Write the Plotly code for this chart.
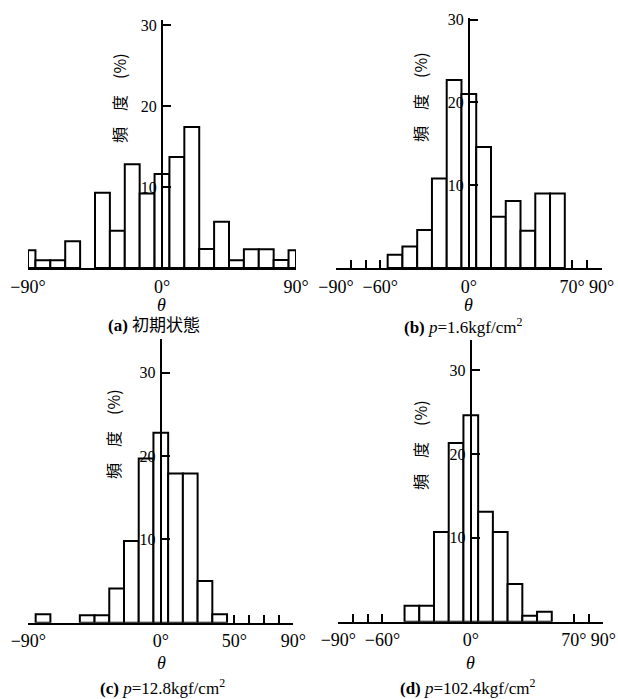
import plotly.graph_objects as go

W, H = 618, 699

# ---------------- data ----------------
# (a) initial state
theta_a = [-87.5, -80, -70, -60, -40, -30, -20, -10, 0, 10, 20, 30, 40, 50, 60, 70, 80, 87.5]
width_a = [5, 10, 10, 10, 10, 10, 10, 10, 10, 10, 10, 10, 10, 10, 10, 10, 10, 5]
freq_a = [2.2, 0.95, 0.95, 3.3, 9.3, 4.6, 12.8, 9.2, 11.6, 13.7, 17.4, 2.35, 5.7, 0.95, 2.3, 2.3, 1.0, 2.2]

# (b) p = 1.6 kgf/cm2
theta_b = [-50, -40, -30, -20, -10, 0, 10, 20, 30, 40, 50, 60]
freq_b = [1.6, 2.6, 4.6, 10.8, 22.7, 21.0, 14.6, 6.2, 8.1, 4.5, 9.0, 9.0]

# (c) p = 12.8 kgf/cm2
theta_c = [-80, -50, -40, -30, -20, -10, 0, 10, 20, 30, 40]
freq_c = [1.0, 0.9, 0.9, 4.1, 9.8, 19.7, 22.8, 17.9, 17.9, 5.0, 1.0]

# (d) p = 102.4 kgf/cm2
theta_d = [-40, -30, -20, -10, 0, 10, 20, 30, 40, 50]
freq_d = [1.9, 1.9, 10.7, 21.3, 24.6, 13.1, 10.7, 4.5, 0.7, 1.2]

bin_width = 10

y_tickvals = [10, 20, 30]
y_ticktext = ["10", "20", "30"]

xt_a_vals = [-90, 0, 90]
xt_a_text = ["−90°", "0°", "90°"]
xt_b_vals = [-90, -80, -70, -60, 0, 70, 80, 90]
xt_b_text = ["−90°", "", "", "−60°", "0°", "70°", "", "90°"]
xt_c_vals = [-90, 0, 50, 60, 70, 80, 90]
xt_c_text = ["−90°", "0°", "50°", "", "", "", "90°"]
xt_d_vals = [-90, -80, -70, -60, 0, 70, 80, 90]
xt_d_text = ["−90°", "", "", "−60°", "0°", "70°", "", "90°"]

y_title = "頻\u3000度\u3000(%)"
x_title = "θ"
captions = ["<b>(a)</b> 初期状態",
            "<b>(b)</b> <i>p</i>=1.6kgf/cm<sup>2</sup>",
            "<b>(c)</b> <i>p</i>=12.8kgf/cm<sup>2</sup>",
            "<b>(d)</b> <i>p</i>=102.4kgf/cm<sup>2</sup>"]

# ---------------- layout geometry (window pixels) ----------------
SERIF = "Liberation Serif, Noto Sans CJK JP, serif"
CJK = "Noto Sans CJK JP, sans-serif"


def px_x(x):
    return x / W


def px_y(y):
    return 1 - y / H


panels = [
    dict(x0=28, x1=296, base=268, ppu=8.1, ytop=30.6, xtl=0, tv=xt_a_vals, tt=xt_a_text,
         th=theta_a, w=width_a, f=freq_a,
         ytitle=(119, 98), xtitle=(161, 305), cap=(154, 326)),
    dict(x0=336, x1=601.7, base=268, ppu=8.28, ytop=30.2, xtl=8, tv=xt_b_vals, tt=xt_b_text,
         th=theta_b, w=[bin_width] * len(theta_b), f=freq_b,
         ytitle=(420, 97), xtitle=(468, 305), cap=(463, 326)),
    dict(x0=28.3, x1=293.3, base=622.7, ppu=8.33, ytop=34.0, xtl=8, tv=xt_c_vals, tt=xt_c_text,
         th=theta_c, w=[bin_width] * len(theta_c), f=freq_c,
         ytitle=(113, 434), xtitle=(161, 663), cap=(163, 687)),
    dict(x0=338.3, x1=603.3, base=621.7, ppu=8.39, ytop=33.6, xtl=8, tv=xt_d_vals, tt=xt_d_text,
         th=theta_d, w=[bin_width] * len(theta_d), f=freq_d,
         ytitle=(420, 445), xtitle=(470, 663), cap=(468, 687)),
]

fig = go.Figure()
layout = dict(
    width=W, height=H,
    margin=dict(l=0, r=0, t=0, b=0, pad=0),
    paper_bgcolor="white", plot_bgcolor="white",
    showlegend=False,
    annotations=[],
)

for i, p in enumerate(panels, start=1):
    xa = "x" if i == 1 else f"x{i}"
    ya = "y" if i == 1 else f"y{i}"
    fig.add_trace(go.Bar(
        x=p["th"], y=p["f"], width=p["w"],
        marker=dict(color="white", line=dict(color="black", width=2)),
        xaxis=xa, yaxis=ya, hoverinfo="skip",
    ))
    ytop_px = p["base"] - p["ytop"] * p["ppu"]
    xkey = "xaxis" if i == 1 else f"xaxis{i}"
    ykey = "yaxis" if i == 1 else f"yaxis{i}"
    layout[xkey] = dict(
        domain=[px_x(p["x0"]), px_x(p["x1"])],
        anchor=ya, range=[-90, 90], automargin=False,
        showgrid=False, zeroline=False,
        showline=True, linecolor="black", linewidth=2,
        ticks="inside" if p["xtl"] else "", ticklen=p["xtl"], tickwidth=2, tickcolor="black",
        tickmode="array", tickvals=p["tv"], ticktext=p["tt"],
        tickfont=dict(family=SERIF, size=18, color="black"),
        ticklabelstandoff=1,
        fixedrange=True,
    )
    layout[ykey] = dict(
        domain=[px_y(p["base"]), px_y(ytop_px)],
        anchor="free", position=px_x((p["x0"] + p["x1"]) / 2),
        range=[0, p["ytop"]], automargin=False,
        showgrid=False, zeroline=False,
        showline=True, linecolor="black", linewidth=2,
        ticks="inside", ticklen=8, tickwidth=2, tickcolor="black",
        tickmode="array", tickvals=y_tickvals, ticktext=y_ticktext,
        tickfont=dict(family=SERIF, size=16, color="black"),
        ticklabelstandoff=1,
        fixedrange=True,
    )
    tx, ty = p["ytitle"]
    layout["annotations"].append(dict(
        text=y_title, textangle=-90, xref="paper", yref="paper",
        x=px_x(tx), y=px_y(ty), xanchor="center", yanchor="middle", showarrow=False,
        font=dict(family=CJK, size=16, color="black")))
    tx, ty = p["xtitle"]
    layout["annotations"].append(dict(
        text=f"<i>{x_title}</i>", xref="paper", yref="paper",
        x=px_x(tx), y=px_y(ty), xanchor="center", yanchor="middle", showarrow=False,
        font=dict(family=SERIF, size=18, color="black")))
    tx, ty = p["cap"]
    layout["annotations"].append(dict(
        text=captions[i - 1], xref="paper", yref="paper",
        x=px_x(tx), y=px_y(ty), xanchor="center", yanchor="middle", showarrow=False,
        font=dict(family=SERIF, size=17, color="black")))

fig.update_layout(**layout)
fig.write_html(
    "out.html",
    config={"displayModeBar": False},
    post_script="document.body.style.margin='0';document.body.style.overflow='hidden';",
)
